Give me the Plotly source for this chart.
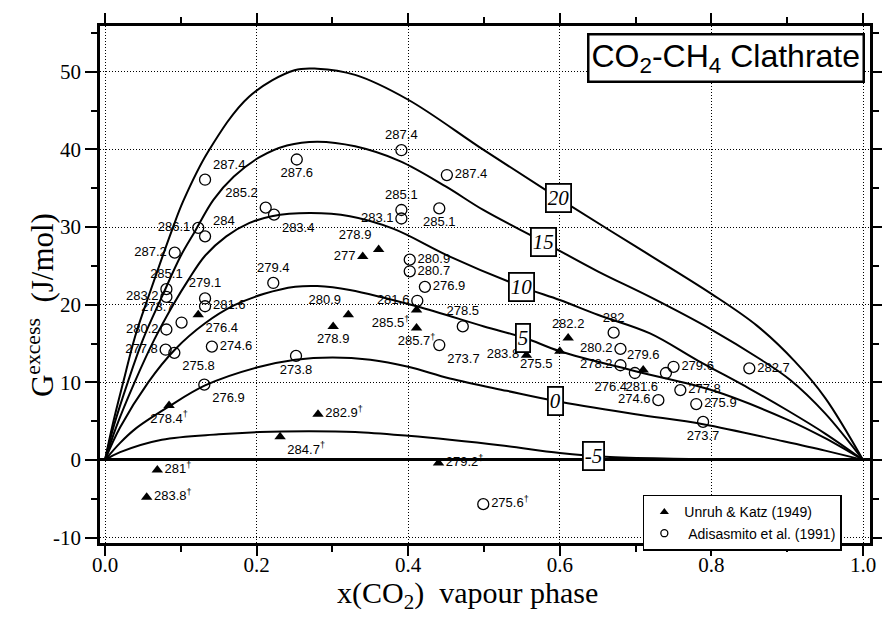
import numpy as np
import plotly.graph_objects as go

# ---- model curves of excess Gibbs energy, labelled by temperature (degC) ----
curve_temps = ["20", "15", "10", "5", "0", "-5"]

x_c20 = [0, 0.01, 0.024, 0.04, 0.059, 0.088, 0.103, 0.136, 0.19, 0.25, 0.28, 0.33, 0.40, 0.50, 0.60, 0.70, 0.80, 0.86, 0.91, 0.95, 1.0]
g_c20 = [0, 4.5, 10, 16, 21.5, 29.5, 33.3, 39.7, 46.8, 50.2, 50.4, 49.6, 46.4, 39.9, 33.6, 27.5, 21.4, 17.3, 12.7, 8.0, 0]

x_c15 = [0, 0.012, 0.03, 0.05, 0.075, 0.1, 0.119, 0.143, 0.17, 0.204, 0.24, 0.28, 0.33, 0.389, 0.45, 0.499, 0.578, 0.65, 0.719, 0.80, 0.864, 0.904, 0.95, 1.0]
g_c15 = [0, 4.5, 10, 15.5, 21, 26.3, 29.5, 33.5, 36.5, 39.0, 40.5, 41.0, 40.4, 38.5, 35.2, 32.2, 28.1, 24.3, 21.0, 16.8, 13.0, 10.3, 6.0, 0]

x_c10 = [0, 0.015, 0.039, 0.065, 0.09, 0.11, 0.132, 0.16, 0.19, 0.22, 0.27, 0.323, 0.38, 0.455, 0.55, 0.60, 0.65, 0.719, 0.782, 0.85, 0.90, 0.95, 1.0]
g_c10 = [0, 4.3, 10, 15.5, 20, 23.2, 26.3, 28.8, 30.5, 31.4, 31.8, 31.4, 29.8, 26.2, 22.3, 20.6, 18.7, 16.3, 12.8, 9.2, 6.4, 3.4, 0]

x_c5 = [0, 0.02, 0.057, 0.092, 0.132, 0.17, 0.21, 0.251, 0.28, 0.323, 0.411, 0.5, 0.554, 0.6, 0.701, 0.80, 0.9, 0.95, 1.0]
g_c5 = [0, 4.2, 10, 14.2, 17.6, 19.9, 21.4, 22.3, 22.4, 21.9, 19.8, 17.2, 15.7, 14.0, 11.4, 9.0, 5.2, 2.8, 0]

x_c0 = [0, 0.02, 0.04, 0.083, 0.132, 0.2, 0.251, 0.3, 0.35, 0.4, 0.455, 0.53, 0.594, 0.7, 0.789, 0.895, 0.95, 1.0]
g_c0 = [0, 2.2, 4.0, 6.8, 9.6, 11.9, 12.9, 13.2, 12.9, 12.0, 10.5, 8.9, 7.6, 5.9, 4.6, 2.4, 1.2, 0]

x_cm5 = [0, 0.02, 0.075, 0.15, 0.204, 0.27, 0.33, 0.4, 0.455, 0.521, 0.6, 0.66, 0.75, 0.85, 1.0]
g_cm5 = [0, 1.0, 2.6, 3.3, 3.6, 3.7, 3.6, 3.1, 2.6, 1.9, 0.9, 0.4, 0.15, 0.05, 0]

# x position of each curve's temperature tag
tag_x = [0.598, 0.578, 0.55, 0.552, 0.594, 0.644]

# ---- Unruh & Katz (1949): x(CO2), G excess (J/mol), temperature (K) ----
uk_x = [0.0845, 0.069, 0.055, 0.231, 0.281, 0.44, 0.123, 0.340, 0.361, 0.321, 0.301, 0.411, 0.411, 0.556, 0.600, 0.611, 0.710]
uk_g = [7.0, -1.3, -4.8, 3.0, 5.9, -0.4, 18.7, 26.2, 27.1, 18.7, 17.2, 19.3, 17.0, 13.5, 14.0, 15.7, 11.6]
uk_t = ["278.4<sup>†</sup>", "281<sup>†</sup>", "283.8<sup>†</sup>", "284.7<sup>†</sup>", "282.9<sup>†</sup>",
        "279.2<sup>†</sup>", "276.4", "277", "278.9", "280.9", "278.9", "285.5<sup>†</sup>",
        "285.7<sup>†</sup>", "283.8", "275.5", "282.2", "279.6"]
uk_pos = ["bottom center", "middle right", "middle right", "bottom right", "middle right",
          "middle right", "bottom right", "middle left", "top left", "top left", "bottom center",
          "bottom left", "bottom center", "middle left", "bottom left", "top center", "top center"]

# ---- Adisasmito et al. (1991) ----
ad_x = [0.132, 0.123, 0.132, 0.092, 0.081, 0.081, 0.101, 0.081, 0.080, 0.0915, 0.132, 0.132, 0.141,
        0.131, 0.222, 0.212, 0.223, 0.253, 0.252, 0.391, 0.451, 0.391, 0.391, 0.441, 0.402, 0.402,
        0.422, 0.412, 0.472, 0.441, 0.671, 0.680, 0.680, 0.699, 0.740, 0.750, 0.759, 0.730, 0.780,
        0.789, 0.850, 0.499]
ad_g = [36.1, 29.9, 28.8, 26.7, 22.0, 21.0, 17.7, 16.8, 14.2, 13.8, 20.8, 19.8, 14.6,
        9.7, 22.8, 32.5, 31.6, 38.7, 13.4, 39.9, 36.7, 32.2, 31.1, 32.4, 25.8, 24.3,
        22.3, 20.5, 17.2, 14.8, 16.4, 14.3, 12.2, 11.2, 11.2, 12.0, 9.0, 7.7, 7.2,
        4.9, 11.8, -5.7]
ad_t = ["287.4", "286.1", "284", "287.2", "285.1", "283.2", "273.7", "280.2", "277.8", "275.8",
        "279.1", "281.6", "274.6", "276.9", "279.4", "285.2", "283.4", "287.6", "273.8", "287.4",
        "287.4", "285.1", "283.1", "285.1", "280.9", "280.7", "276.9", "281.6", "278.5", "273.7",
        "282", "280.2", "278.2", "276.4", "281.6", "279.6", "277.8", "274.6", "275.9", "273.7",
        "282.7", "275.6<sup>†</sup>"]
ad_pos = ["top right", "middle left", "top right", "middle left", "top center", "middle left",
          "top left", "middle left", "middle left", "bottom right", "top center", "middle right",
          "middle right", "bottom right", "top center", "top left", "bottom right", "bottom center",
          "bottom center", "top center", "middle right", "top center", "middle left", "bottom center",
          "middle right", "middle right", "middle right", "middle left", "top center", "bottom right",
          "top center", "middle left", "middle left", "bottom left", "bottom left", "middle right",
          "middle right", "middle left", "middle right", "bottom center", "middle right", "middle right"]

x_ticks = [0.0, 0.2, 0.4, 0.6, 0.8, 1.0]
x_minor = [0.1, 0.3, 0.5, 0.7, 0.9]
y_ticks = [-10, 0, 10, 20, 30, 40, 50]
y_minor = [-5, 5, 15, 25, 35, 45, 55]

SERIF = "Liberation Serif, Times New Roman, serif"
SANS = "Liberation Sans, Arial, sans-serif"
DOTS = "1px,2px"

fig = go.Figure()

curves = [(x_c20, g_c20), (x_c15, g_c15), (x_c10, g_c10), (x_c5, g_c5), (x_c0, g_c0), (x_cm5, g_cm5)]
for xs, gs in curves:
    fig.add_trace(go.Scatter(x=xs, y=gs, mode="lines",
                             line=dict(color="black", width=2, shape="spline", smoothing=1.0),
                             showlegend=False, hoverinfo="skip"))

label_font = dict(family=SANS, size=13, color="black")
fig.add_trace(go.Scatter(x=uk_x, y=uk_g, mode="markers+text", showlegend=False,
                         marker=dict(symbol="triangle-up", size=10, color="black"),
                         text=uk_t, textposition=uk_pos, textfont=label_font))
fig.add_trace(go.Scatter(x=ad_x, y=ad_g, mode="markers+text", showlegend=False,
                         marker=dict(symbol="circle-open", size=11, color="black", line=dict(width=1.3)),
                         text=ad_t, textposition=ad_pos, textfont=label_font))

# legend keys (smaller symbols than on the plot)
fig.add_trace(go.Scatter(x=[None], y=[None], mode="markers", name="Unruh & Katz (1949)",
                         marker=dict(symbol="triangle-up", size=8, color="black")))
fig.add_trace(go.Scatter(x=[None], y=[None], mode="markers", name="&nbsp;Adisasmito et al. (1991)",
                         marker=dict(symbol="circle-open", size=7, color="black", line=dict(width=1.3))))

# temperature tags on the curves
for lab, tx, (xs, gs) in zip(curve_temps, tag_x, curves):
    fig.add_annotation(x=tx, y=float(np.interp(tx, xs, gs)), text="<i>%s</i>" % lab, showarrow=False,
                       font=dict(family=SERIF, size=21, color="black"),
                       bgcolor="white", bordercolor="black", borderwidth=1.8, borderpad=1)

# title box
fig.add_annotation(xref="paper", yref="paper", x=0.9935, y=0.9865, xanchor="right", yanchor="top",
                   text="CO<sub>2</sub>-CH<sub>4</sub> Clathrate", showarrow=False,
                   font=dict(family=SANS, size=32, color="black"),
                   bgcolor="white", bordercolor="black", borderwidth=2.5, borderpad=2)

# axis titles
fig.add_annotation(xref="paper", yref="paper", x=0.477, y=-0.1, xanchor="center", yanchor="middle",
                   text="x(CO<sub>2</sub>) &nbsp;vapour phase", showarrow=False,
                   font=dict(family=SERIF, size=30, color="black"))
fig.add_annotation(xref="paper", yref="paper", x=-0.078, y=0.46, xanchor="center", yanchor="middle",
                   textangle=-90, showarrow=False,
                   text="G<sup>excess</sup> &nbsp;(J/mol)",
                   font=dict(family=SERIF, size=31, color="black"))

fig.update_layout(
    width=882, height=617,
    margin=dict(l=100, r=12, t=26, b=74, autoexpand=False),
    paper_bgcolor="white", plot_bgcolor="white",
    legend=dict(x=0.705, y=0.093, xanchor="left", yanchor="top",
                bordercolor="black", borderwidth=1.5, bgcolor="white",
                font=dict(family=SANS, size=14, color="black"),
                itemwidth=30, tracegroupgap=0),
    xaxis=dict(range=[-0.0066, 1.0092], tickvals=x_ticks, ticktext=["%.1f" % v for v in x_ticks],
               automargin=False,
               ticks="outside", ticklen=10, tickwidth=2, tickcolor="black", ticklabelstandoff=-9,
               minor=dict(tickvals=x_minor, ticks="outside", ticklen=6, tickwidth=1.5, tickcolor="black"),
               showline=True, linecolor="black", linewidth=2.5, mirror="allticks",
               showgrid=True, gridcolor="black", griddash=DOTS, gridwidth=1,
               zeroline=False,
               tickfont=dict(family=SERIF, size=21, color="black")),
    yaxis=dict(range=[-10.7, 55.9], tickvals=y_ticks, ticktext=[str(v) for v in y_ticks],
               automargin=False,
               ticks="outside", ticklen=12, tickwidth=2, tickcolor="black",
               minor=dict(tickvals=y_minor, ticks="outside", ticklen=6, tickwidth=1.5, tickcolor="black"),
               showline=True, linecolor="black", linewidth=2.5, mirror="allticks",
               showgrid=True, gridcolor="black", griddash=DOTS, gridwidth=1,
               zeroline=True, zerolinecolor="black", zerolinewidth=2.5,
               tickfont=dict(family=SERIF, size=21, color="black")),
)

fig.write_html("out.html")
